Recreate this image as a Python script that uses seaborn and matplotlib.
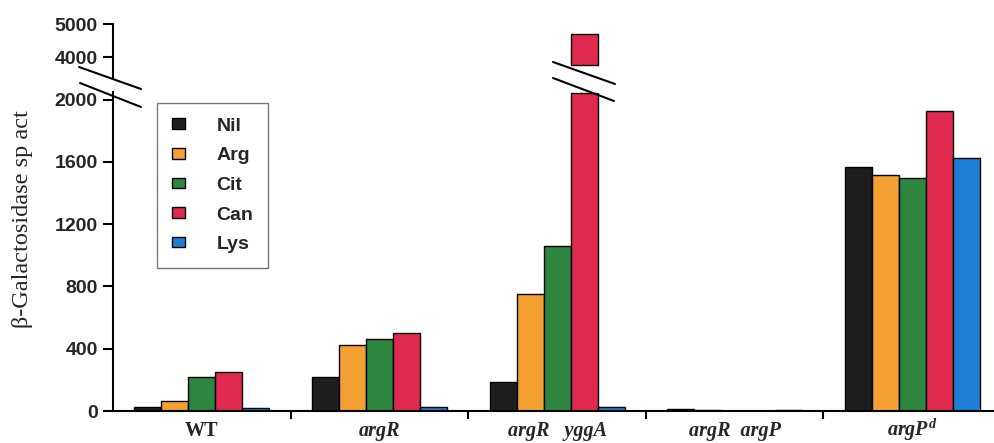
import seaborn as sns
import matplotlib.pyplot as plt
import pandas as pd
import numpy as np
from matplotlib.lines import Line2D
from matplotlib.patches import Patch

# data
strains = ['WT', 'argR', 'argR yggA', 'argR argP', 'argPd']
strain_labels = ['WT', 'argR', 'argR   yggA', 'argR  argP', r'$argP^{d}$']
conditions = ['Nil', 'Arg', 'Cit', 'Can', 'Lys']
nil = [25, 220, 188, 12, 1565]
arg = [66, 424, 751, 4, 1518]
cit = [218, 462, 1060, 3, 1498]
can = [252, 503, 4700, 3, 1929]
lys = [18, 28, 28, 4, 1623]
colors = ['#1e1e1e', '#f5a033', '#2e8540', '#e0294f', '#1e7fd6']

low_top = 2050      # top of the lower panel
high_bottom = 3765  # where the broken bar resumes
lower_ticks = [0, 400, 800, 1200, 1600, 2000]
upper_ticks = [4000, 5000]

df = pd.DataFrame({
    'strain': np.repeat(strains, len(conditions)),
    'cond': conditions * len(strains),
    'value': np.array([nil, arg, cit, can, lys]).T.ravel(),
})
df['low'] = np.minimum(df['value'], low_top - 10)
df['high'] = np.where(df['value'] > low_top, df['value'] - high_bottom, 0)

sns.set_style('white')
plt.rcParams['mathtext.fontset'] = 'custom'
plt.rcParams['mathtext.it'] = 'Liberation Serif:italic:bold'
plt.rcParams['mathtext.rm'] = 'Liberation Serif:bold'

W, H = 994, 443
fig = plt.figure(figsize=(W / 100, H / 100), dpi=100)

def px(x0, y0, x1, y1):
    return [x0 / W, 1 - y1 / H, (x1 - x0) / W, (y1 - y0) / H]

ax = fig.add_axes(px(113, 411 - low_top * 0.1557, 994, 411))
ax_top = fig.add_axes(px(113, 24, 994, 78))

pal = dict(zip(conditions, colors))
sns.barplot(data=df, x='strain', y='low', hue='cond', palette=pal, width=0.76,
            edgecolor='black', linewidth=1, saturation=1, legend=False, ax=ax)
sns.barplot(data=df, x='strain', y='high', hue='cond', palette=pal, width=0.76,
            edgecolor='black', linewidth=1, saturation=1, legend=False, ax=ax_top)
for p in ax_top.patches:
    if p.get_height() > 0:
        p.set_y(high_bottom)
    else:
        p.set_visible(False)

for a in (ax, ax_top):
    a.set_xlim(-0.5, 4.46)
    sns.despine(ax=a, top=True, right=True)
    a.spines['left'].set_linewidth(1.5)
    a.spines['left'].set_color('black')
    a.set_xlabel('')
    a.set_ylabel('')
    a.tick_params(axis='y', direction='out', length=7, width=1.5, color='black',
                  left=True, labelsize=14, pad=4)

ax.set_ylim(0, low_top)
ax.set_yticks(lower_ticks)
ax.set_yticklabels([str(v) for v in lower_ticks], fontweight='bold', family='Liberation Sans')
ax.spines['bottom'].set_linewidth(1.5)
ax.spines['bottom'].set_color('black')

# strain names as baseline-aligned text under each group
ax.set_xticks([])
for i, lab in enumerate(strain_labels):
    ax.annotate(lab, xy=(i, 0), xycoords=('data', 'axes fraction'),
                xytext=(0, -18), textcoords='offset points', ha='center', va='baseline',
                family='Liberation Serif', fontsize=14.5, fontweight='bold',
                style='normal' if lab == 'WT' else 'italic', annotation_clip=False)
ax.set_xticks([0.5, 1.5, 2.5, 3.5], minor=True)
ax.tick_params(axis='x', which='minor', bottom=True, direction='out',
               length=6, width=1.5, color='black')

ax_top.set_ylim(3380, 5000)
ax_top.set_yticks(upper_ticks)
ax_top.set_yticklabels([str(v) for v in upper_ticks], fontweight='bold', family='Liberation Sans')
ax_top.spines['bottom'].set_visible(False)
ax_top.set_xticks([])
ax_top.patch.set_alpha(0)

fig.text(23 / W, 1 - 219 / H, 'β-Galactosidase sp act', rotation=90, ha='center',
         va='center', family='Liberation Serif', fontsize=17.5)

# break marks
fig.add_artist(Line2D([556 / W, 612 / W], [1 - 72 / H, 1 - 91 / H], color='white', lw=9, zorder=2.5))
for (x0, y0, x1, y1) in [(79, 67, 141, 89), (80, 83, 141, 107),
                         (553, 62, 615, 84), (553, 78, 614, 101)]:
    fig.add_artist(Line2D([x0 / W, x1 / W], [1 - y0 / H, 1 - y1 / H],
                          color='black', lw=1.5, zorder=3))

handles = [Patch(facecolor=c, edgecolor='black', label=l) for c, l in zip(colors, conditions)]
leg = ax.legend(handles=handles, loc='upper left', bbox_to_anchor=(157 / W, 1 - 103 / H),
                bbox_transform=fig.transFigure, frameon=True, fancybox=False,
                edgecolor='#555555', handlelength=0.7, handleheight=0.45,
                handletextpad=1.6, labelspacing=0.65, borderpad=0.75, borderaxespad=0,
                prop={'family': 'Liberation Sans', 'weight': 'bold', 'size': 14})
leg.get_frame().set_linewidth(1)

fig.savefig('out.png', dpi=100)
